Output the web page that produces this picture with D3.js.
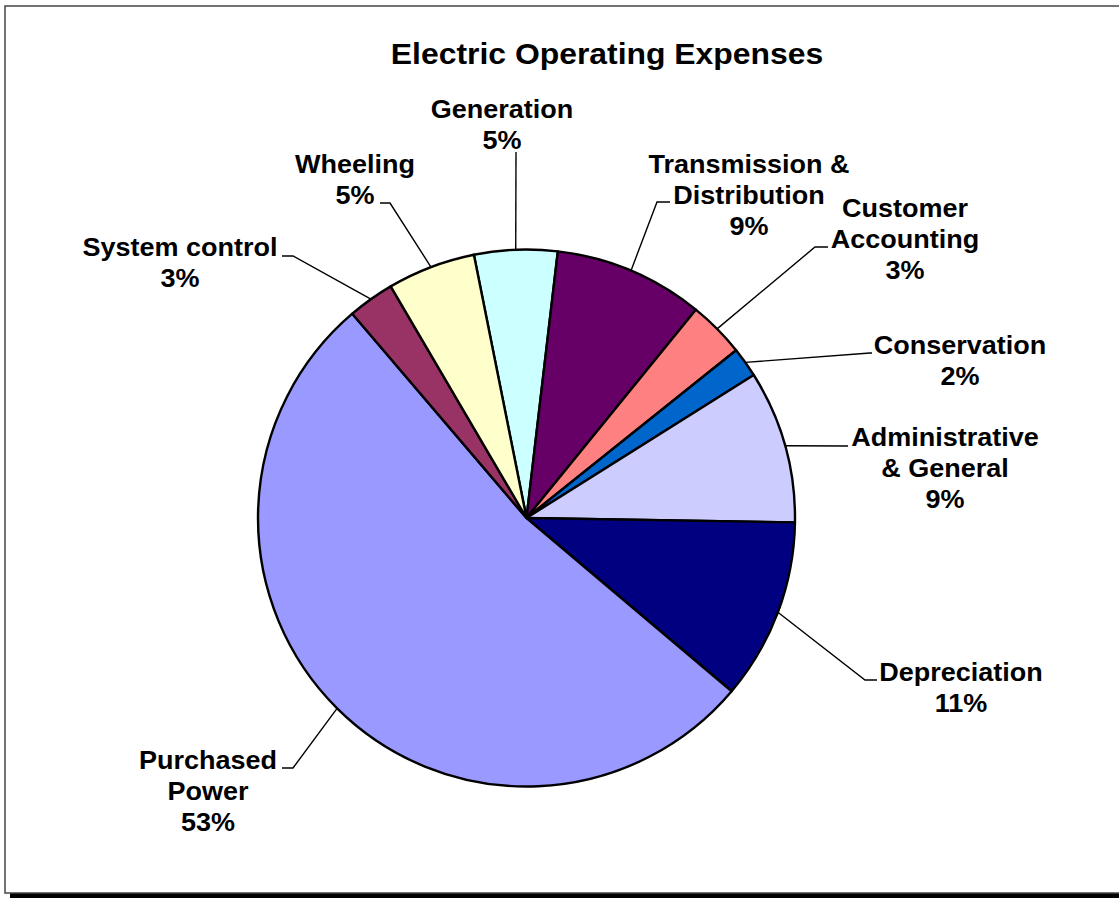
<!DOCTYPE html>
<html>
<head>
<meta charset="utf-8">
<script src="https://cdn.jsdelivr.net/npm/d3@7"></script>
<style>
  body { margin: 0; background: #fff; }
  svg { display: block; font-family: "Liberation Sans", Arial, sans-serif; }
</style>
</head>
<body>
<svg id="chart" width="1119" height="898"></svg>
<script>
// data (percent of electric operating expenses), clockwise from the top
const categories = ["Generation", "Transmission & Distribution", "Customer Accounting", "Conservation",
    "Administrative & General", "Depreciation", "Purchased Power", "System control", "Wheeling"];
const shares = [5.0, 9.0, 3.4, 1.8, 9.2, 10.9, 52.6, 2.8, 5.3];
const labelLines = [["Generation"], ["Transmission &", "Distribution"], ["Customer", "Accounting"], ["Conservation"],
    ["Administrative", "& General"], ["Depreciation"], ["Purchased", "Power"], ["System control"], ["Wheeling"]];
const colors = ["#CCFFFF", "#660066", "#FF8080", "#0066CC", "#CCCCFF", "#000080", "#9999FF", "#993366", "#FFFFCC"];

// label layout: text centre x, first baseline y, elbow point, end of leader
const labelLayout = {
    "Generation": { x: 502, y: 118, elbow: [516, 152], end: [516, 152] },
    "Transmission & Distribution": { x: 749, y: 173, elbow: [657, 202], end: [670, 202] },
    "Customer Accounting": { x: 905, y: 217, elbow: [815, 247], end: [828, 247] },
    "Conservation": { x: 960, y: 354, elbow: [870, 353], end: [872, 353] },
    "Administrative & General": { x: 945, y: 446, elbow: [848, 446], end: [848, 446] },
    "Depreciation": { x: 961, y: 681, elbow: [865, 680], end: [877, 680] },
    "Purchased Power": { x: 208, y: 769, elbow: [293, 768], end: [282, 768] },
    "System control": { x: 180, y: 256, elbow: [293, 256], end: [282, 256] },
    "Wheeling": { x: 355, y: 173, elbow: [390, 203], end: [380, 203] }
};

const svg = d3.select("#chart");
const cx = 526.5, cy = 518, r = 268.5;
const lineH = 31;
const stretch = 1.08;

// frame with shadow
svg.append("rect").attr("x", 10).attr("y", 893).attr("width", 1120).attr("height", 6).attr("fill", "#000");
svg.append("rect")
    .attr("x", 5).attr("y", 6).attr("width", 1130).attr("height", 887)
    .attr("fill", "#fff").attr("stroke", "#444").attr("stroke-width", 1.5);

svg.append("g")
    .attr("transform", `translate(607,0) scale(1.1,1)`)
    .append("text")
    .attr("x", 0).attr("y", 64)
    .attr("text-anchor", "middle")
    .style("font-size", "29px").style("font-weight", "bold")
    .text("Electric Operating Expenses");

const data = categories.map((c, i) => ({ name: c, value: shares[i], lines: labelLines[i], color: colors[i] }));

const startDeg = -11.3;
const pie = d3.pie()
    .value(d => d.value)
    .sort(null)
    .startAngle(startDeg * Math.PI / 180)
    .endAngle((startDeg + 360) * Math.PI / 180);

const arcs = pie(data);
const arc = d3.arc().innerRadius(0).outerRadius(r);

const g = svg.append("g").attr("transform", `translate(${cx},${cy})`);
g.selectAll("path.slice")
    .data(arcs)
    .enter()
    .append("path")
    .attr("class", "slice")
    .attr("d", arc)
    .attr("fill", d => d.data.color)
    .attr("stroke", "#000")
    .attr("stroke-width", 2.4)
    .attr("stroke-linejoin", "round");

// leader lines from the middle of each arc, then the labels
arcs.forEach(d => {
    const lay = labelLayout[d.data.name];
    const mid = (d.startAngle + d.endAngle) / 2;
    const px = cx + r * Math.sin(mid), py = cy - r * Math.cos(mid);
    svg.append("polyline")
        .attr("points", [[px, py], lay.elbow, lay.end].map(p => p.join(",")).join(" "))
        .attr("fill", "none").attr("stroke", "#000").attr("stroke-width", 1.4);

    const t = svg.append("g")
        .attr("transform", `translate(${lay.x},0) scale(${stretch},1)`)
        .append("text")
        .attr("text-anchor", "middle")
        .style("font-size", "25px").style("font-weight", "bold");
    const lines = d.data.lines.concat([Math.round(d.data.value) + "%"]);
    lines.forEach((ln, i) => {
        t.append("tspan").attr("x", 0).attr("y", lay.y + i * lineH).text(ln);
    });
});
</script>
</body>
</html>
